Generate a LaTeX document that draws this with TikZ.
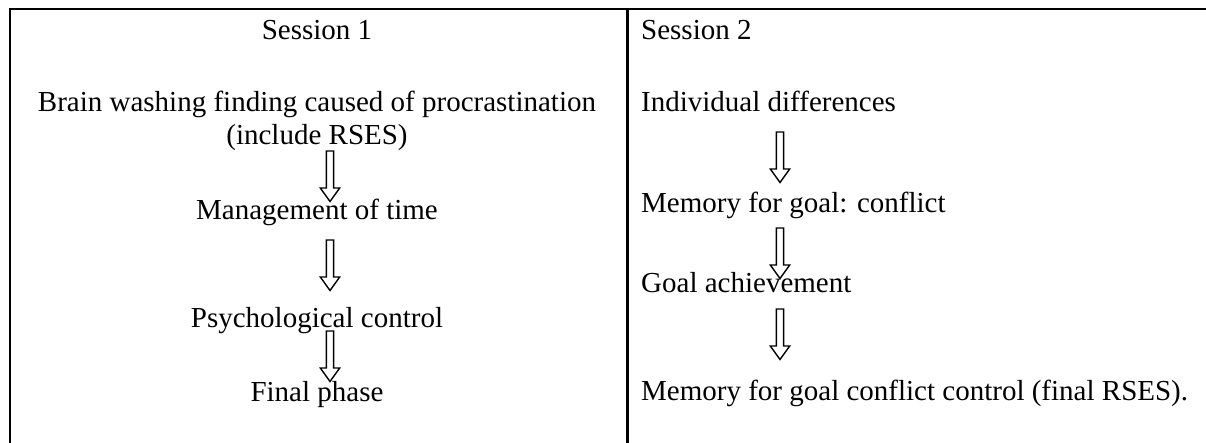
\documentclass[tikz,border=0pt]{standalone}
\usepackage{fontspec}
\setmainfont{Liberation Serif}
\begin{document}
\begin{tikzpicture}[x=1pt,y=-1pt,
  txt/.style={font=\fontsize{29}{33}\selectfont, inner sep=0pt, anchor=base},
  txtl/.style={txt, anchor=base west},
  rule/.style={line width=2.2pt, line cap=rect},
  blk/.style={draw=black, fill=white, line width=1.4pt, line join=miter}]
\useasboundingbox (0,0) rectangle (1206,443);
% table rules
\coordinate (tl) at (10,9);
\coordinate (tr) at (1206,9);
\coordinate (bl) at (10,443);
\coordinate (mt) at (627.5,9);
\coordinate (mb) at (627.5,443);
\draw[rule] (tl) -- (tr);
\draw[rule] (tl) -- (bl);
\draw[rule] (mt) -- (mb);
% left column
\node[txt] (s1) at (317,40) {Session 1};
\node[txt] (b1) at (317,112) {Brain washing finding caused of procrastination};
\node[txt] (b2) at (317,145) {(include RSES)};
\node[txt] (m) at (317,220) {Management of time};
\node[txt] (p) at (317,327) {Psychological control};
\node[txt] (f) at (317,401) {Final phase};
% right column
\node[txtl] (s2) at (641,40) {Session 2};
\node[txtl] (r1) at (641,112) {Individual differences};
\node[txtl] (r2) at (641,213) {Memory for goal: conflict};
\node[txtl] (r3) at (641,293) {Goal achievement};
\node[txtl] (r4) at (641,400) {Memory for goal conflict control (final RSES).};
% block arrows (top points)
\coordinate (a1) at (330,151);
\coordinate (a2) at (330,240);
\coordinate (a3) at (330,331);
\coordinate (a4) at (780,132);
\coordinate (a5) at (780,228);
\coordinate (a6) at (780,309);
\foreach \a in {a1,a2,a3,a4,a5,a6}{
  \draw[blk] (\a) ++(-3.6,0) -- ++(0,37) -- ++(-6.1,0) -- ++(9.7,13.5)
     -- ++(9.7,-13.5) -- ++(-6.1,0) -- ++(0,-37) -- cycle;
}
\end{tikzpicture}
\end{document}
